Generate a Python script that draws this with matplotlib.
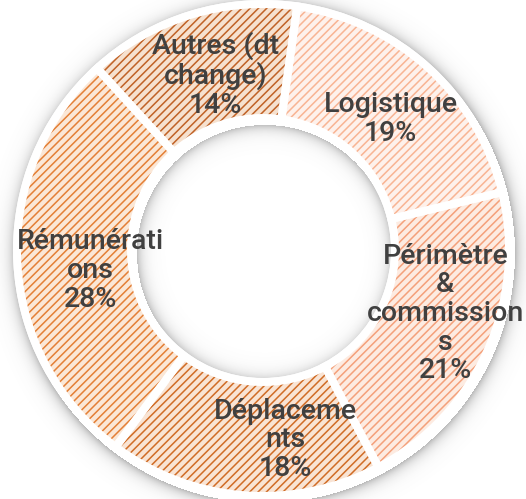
import matplotlib
matplotlib.use("Agg")
import matplotlib.pyplot as plt
import numpy as np

# categories (wrapped as in the source chart) and their shares in %
names = [
	"Logistique",
	"Périmètre\n&\ncommission\ns",
	"Déplaceme\nnts",
	"Rémunérati\nons",
	"Autres (dt\nchange)",
]
shares = [19, 21, 18, 28, 14]

face_colors = ["#FEF1EB", "#FDEBE1", "#F9E4D4", "#FBE7D6", "#F6E1CF"]
hatch_colors = ["#F8B493", "#F4A07A", "#D06C26", "#E47F36", "#C06226"]
# small tweaks of label placement (degrees, px) to follow the source layout
label_nudge = [-2, 5, 11, 4, -2]
label_dist = [183, 193, 191, 174, 181]

W, H = 526, 499
cx, cy = 263, 249
R = 246
RING = 114
EDGE = 8  # px, white gap between slices

plt.rcParams["hatch.linewidth"] = 1.1

fig = plt.figure(figsize=(W / 100, H / 100), dpi=100)
ax = fig.add_axes([0, 0, 1, 1])

# soft drop shadow around the ring (outside and inside the hole)
yy, xx = np.mgrid[0:H, 0:W] + 0.5
r = np.hypot(xx - cx - 2, yy - cy + 3)
d_out = r - (R + EDGE / 2)
d_in = (R - RING - EDGE / 2) - r
alpha = np.zeros_like(r)
alpha = np.where(d_out > 0, 0.5 * np.exp(-d_out / 6.0), alpha)
alpha = np.where(d_in > 0, 0.45 * np.exp(-d_in / 6.0), alpha)
shadow = np.zeros((H, W, 4))
shadow[..., :3] = 0.45
shadow[..., 3] = alpha
ax.imshow(shadow, extent=(0, W, 0, H), origin="lower", zorder=0, interpolation="bilinear")

# white ring underneath so the shadow does not show through the gaps
under, _ = ax.pie(
	[1], radius=R + EDGE / 2, center=(cx, cy), colors=["white"],
	wedgeprops=dict(width=RING + EDGE, linewidth=0),
)
for w in under:
	w.set_zorder(1)

wedges, _ = ax.pie(
	shares,
	radius=R,
	center=(cx, cy),
	startangle=82,
	counterclock=False,
	colors=face_colors,
	wedgeprops=dict(width=RING, linewidth=0),
)
for w, hc in zip(wedges, hatch_colors):
	w.set_hatch("////")
	w.set_edgecolor(hc)
	w.set_linewidth(0)
	w.set_zorder(2)

# white borders on top (gaps between slices)
borders, _ = ax.pie(
	shares,
	radius=R,
	center=(cx, cy),
	startangle=82,
	counterclock=False,
	colors=["none"] * len(shares),
	wedgeprops=dict(width=RING, linewidth=EDGE * 0.72, edgecolor="white", joinstyle="miter"),
)
for w in borders:
	w.set_zorder(3)

for w, name, v, nudge, dist in zip(wedges, names, shares, label_nudge, label_dist):
	ang = np.deg2rad((w.theta1 + w.theta2) / 2 + nudge)
	ax.text(
		cx + dist * np.cos(ang), cy + dist * np.sin(ang),
		f"{name}\n{v}%",
		ha="center", va="center", multialignment="center",
		fontsize=20.5, fontfamily="Roboto", fontweight="medium",
		color="#404040", linespacing=1.08, zorder=4,
	)

ax.set_xlim(0, W)
ax.set_ylim(0, H)
ax.set_aspect("auto")
ax.axis("off")

fig.savefig("out.png", dpi=100)
